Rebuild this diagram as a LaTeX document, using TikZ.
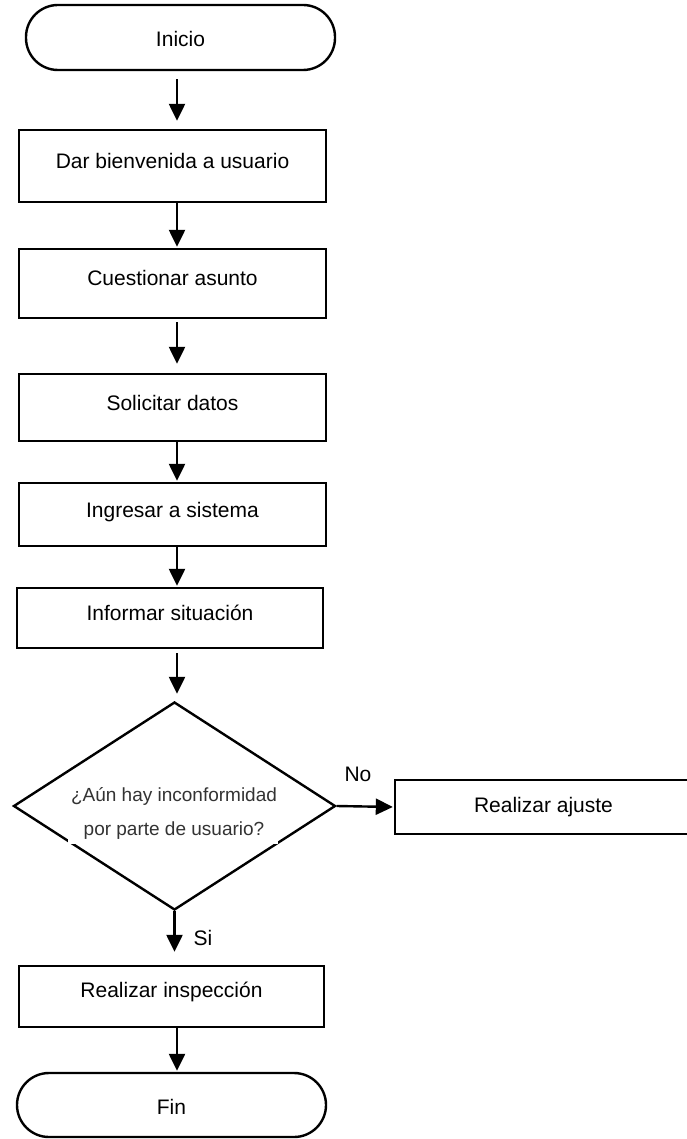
\documentclass[tikz,border=0pt]{standalone}
\usepackage{fontspec}
\setmainfont{Liberation Sans}
\usetikzlibrary{arrows.meta,shapes.geometric}
\begin{document}
\begin{tikzpicture}[x=1pt,y=-1pt,
  every node/.style={font=\fontsize{21}{25}\selectfont},
  box/.style={draw, line width=2.4pt, rectangle, inner sep=0pt, minimum width=307pt, text height=15pt, text depth=10pt},
  term/.style={draw, line width=2.4pt, rectangle, rounded corners=32pt, inner sep=0pt, minimum width=309pt},
  arr/.style={line width=2.4pt, -{Triangle[width=16pt,length=17pt]}}
]
\useasboundingbox (0,0) rectangle (686,1139);
\coordinate (ax) at (177,0);

\node[term, minimum height=65pt, text height=19pt, text depth=0pt] (inicio) at (180.5,37.5) {Inicio};
\node[box, minimum height=72pt] (b1) at (172.5,166) {Dar bienvenida a usuario};
\node[box, minimum height=69pt] (b2) at (172.5,283.5) {Cuestionar asunto};
\node[box, minimum height=67pt] (b3) at (172.5,407.5) {Solicitar datos};
\node[box, minimum height=63pt] (b4) at (172.5,514.5) {Ingresar a sistema};
\node[box, minimum width=306pt, minimum height=60pt] (b5) at (170,618) {Informar situación};
\node[diamond, draw, line width=2.4pt, minimum width=322pt, minimum height=208pt, inner sep=0pt] (d) at (174.5,806) {};
\fill[white] (68,782) rectangle (278,844);
\node[font=\fontsize{19}{34}\selectfont, text=black!80, align=center, inner sep=0pt] (q) at (174,813) {¿Aún hay inconformidad\\por parte de usuario?};
\node[box, minimum width=297pt, minimum height=54pt, text height=15pt, text depth=4pt] (aj) at (543.5,807) {Realizar ajuste};
\node[box, minimum width=305pt, minimum height=61pt, text height=15pt, text depth=14pt] (b6) at (171.5,996.5) {Realizar inspección};
\node[term, minimum height=64pt, text height=18pt, text depth=0pt] (fin) at (171.5,1105) {Fin};

\node (no) at (358,774) {No};
\node (si) at (203,937.5) {Si};

\draw[arr, shorten <=8pt, shorten >=8pt] (inicio.south -| ax) -- (b1.north -| ax);
\draw[arr, shorten >=1pt] (b1.south -| ax) -- (b2.north -| ax);
\draw[arr, shorten <=3pt, shorten >=9pt] (b2.south -| ax) -- (b3.north -| ax);
\draw[arr, shorten >=1pt] (b3.south -| ax) -- (b4.north -| ax);
\draw[arr, shorten >=1pt] (b4.south -| ax) -- (b5.north -| ax);
\draw[arr, shorten <=4pt, shorten >=7pt] (b5.south -| ax) -- (d.north -| ax);
\draw[arr, shorten >=1pt] (d.east) -- (aj.west);
\draw[arr, shorten >=13pt] (d.south) -- (b6.north -| d.south);
\draw[arr, shorten >=1pt] (b6.south -| ax) -- (fin.north -| ax);
\end{tikzpicture}
\end{document}
